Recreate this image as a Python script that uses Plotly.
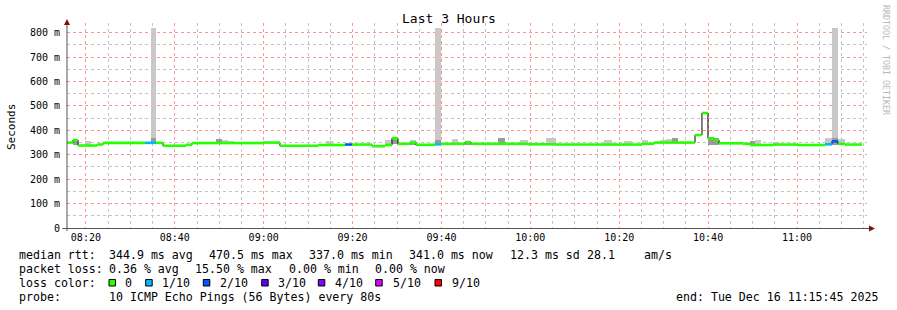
import plotly.graph_objects as go
import pandas as pd

DAY = "2025-12-16 "
RANGE_START = "08:15:45"
RANGE_END = "11:15:45"

# median RTT steps: segment start times, median (ms), loss (of 10 pings)
seg_start = [
    "08:15:45", "08:17:06", "08:18:14", "08:19:48", "08:21:09", "08:22:30", "08:23:51", "08:33:18", "08:34:39", "08:35:46",
    "08:37:21", "08:42:31", "08:43:52", "08:49:16", "08:50:37", "08:51:58", "08:53:19", "08:59:51", "09:03:40", "09:12:13",
    "09:14:01", "09:15:36", "09:18:18", "09:19:52", "09:24:22", "09:27:18", "09:28:52", "09:30:13", "09:32:55", "09:34:16",
    "09:38:33", "09:39:54", "09:42:22", "09:43:43", "09:45:18", "09:46:39", "09:52:43", "09:54:18", "09:57:40", "09:59:28",
    "10:03:31", "10:05:46", "10:16:34", "10:18:22", "10:21:04", "10:22:52", "10:25:07", "10:26:28", "10:27:49", "10:29:10",
    "10:30:31", "10:31:52", "10:33:13", "10:37:03", "10:38:37", "10:39:58", "10:41:19", "10:42:27", "10:47:51", "10:49:25",
    "10:50:33", "10:51:54", "10:54:36", "10:55:57", "11:00:00", "11:06:18", "11:07:52", "11:09:13", "11:10:48",
]
data_end = "11:14:37"
median_ms = [
    350, 360, 338, 338, 338, 342, 349, 349, 349, 349,
    337, 341, 348, 348, 348, 348, 348, 350, 337, 340,
    340, 340, 342, 342, 335, 340, 368, 345, 350, 341,
    343, 345, 345, 345, 352, 345, 345, 345, 345, 343,
    343, 342, 342, 342, 342, 342, 345, 345, 350, 350,
    350, 350, 350, 381, 471, 367, 361, 347, 345, 340,
    340, 340, 342, 342, 340, 343, 355, 345, 342,
]
loss = [
    0, 0, 0, 0, 0, 0, 0, 1, 1, 0,
    0, 0, 0, 0, 0, 0, 0, 0, 0, 0,
    0, 0, 2, 0, 0, 0, 0, 0, 0, 0,
    1, 0, 0, 0, 0, 0, 0, 0, 0, 0,
    0, 0, 0, 0, 0, 0, 0, 0, 0, 0,
    0, 0, 0, 0, 0, 0, 0, 0, 0, 0,
    0, 0, 0, 0, 0, 1, 2, 0, 0,
]

# smoke (ping spread) for the segments that show it
smoke_at = [
    "08:17:06", "08:19:48", "08:34:39", "08:49:16", "08:50:37", "08:51:58", "09:14:01", "09:27:18", "09:28:52", "09:32:55",
    "09:38:33", "09:42:22", "09:45:18", "09:52:43", "09:57:40", "10:03:31", "10:16:34", "10:21:04", "10:25:07", "10:29:10",
    "10:30:31", "10:31:52", "10:39:58", "10:41:19", "10:49:25", "10:50:33", "10:54:36", "11:06:18", "11:07:52", "11:09:13",
]
smoke_lo = [
    340, 338, 349, 348, 348, 348, 340, 340, 345, 340,
    343, 345, 342, 345, 345, 343, 342, 342, 345, 350,
    350, 350, 340, 340, 340, 340, 342, 343, 340, 345,
]
smoke_dark = [
    360, 338, 370, 365, 348, 348, 340, 340, 370, 352,
    362, 345, 355, 370, 345, 343, 342, 342, 345, 350,
    350, 369, 372, 368, 358, 340, 342, 343, 368, 345,
]
smoke_light = [
    366, 358, 820, 365, 361, 357, 358, 362, 372, 360,
    820, 364, 355, 370, 362, 368, 360, 358, 362, 360,
    366, 369, 372, 368, 358, 361, 352, 369, 820, 365,
]

y_tick_vals = [0, 100, 200, 300, 400, 500, 600, 700, 800]
y_tick_text = ["0", "100 m", "200 m", "300 m", "400 m", "500 m", "600 m", "700 m", "800 m"]

loss_labels = ["0", "1/10", "2/10", "3/10", "4/10", "5/10", "9/10"]
loss_colors = ["#26ff00", "#00b8ff", "#0059ff", "#5e00ff", "#7e00ff", "#dd00ff", "#ff0000"]
loss_color_by_count = {0: "#26ff00", 1: "#00b8ff", 2: "#0059ff", 3: "#5e00ff", 4: "#7e00ff", 5: "#dd00ff", 9: "#ff0000"}

legend_rtt = [("median rtt:", 16.7), ("344.9 ms avg", 107.3), ("470.5 ms max", 206.7), ("337.0 ms min", 307.3),
              ("341.0 ms now", 407.3), ("12.3 ms sd", 507.7), ("28.1", 585.0), ("am/s", 642.3)]
legend_loss = [("packet loss:", 16.7), ("0.36 % avg", 107.3), ("15.50 % max", 193.3), ("0.00 % min", 286.7),
               ("0.00 % now", 372.7)]
probe_text = "10 ICMP Echo Pings (56 Bytes) every 80s"
end_text = "end: Tue Dec 16 11:15:45 2025"

# ---------------------------------------------------------------
W, H = 897, 310
ML, MR, MT, MB = 67, 30, 23, 82
PW, PH = W - ML - MR, H - MT - MB
MONO = "DejaVu Sans Mono"
MAJ_GRID = "#ff9494"
MIN_GRID = "#c4c4c4"
DOTS = "dot"


def px(x):
    return (x - ML) / PW


def py(y):
    return (H - MB - y) / PH


starts = pd.to_datetime([DAY + s for s in seg_start])
ends = list(starts[1:]) + [pd.Timestamp(DAY + data_end)]

fig = go.Figure()

# smoke bars
idx = {s: i for i, s in enumerate(seg_start)}
cx, wd, base_l, hl, hd = [], [], [], [], []
for s, lo, dk, lt in zip(smoke_at, smoke_lo, smoke_dark, smoke_light):
    i = idx[s]
    st, en = starts[i], ends[i]
    cx.append(st + (en - st) / 2)
    wd.append((en - st).total_seconds() * 1000)
    base_l.append(lo)
    hl.append(lt - lo)
    hd.append(dk - lo)
fig.add_trace(go.Bar(x=cx, y=hl, base=base_l, width=wd, marker=dict(color="#c8c8c8", line=dict(width=0)),
                     showlegend=False, hoverinfo="skip"))
fig.add_trace(go.Bar(x=cx, y=hd, base=base_l, width=wd, marker=dict(color="#9a9a9a", line=dict(width=0)),
                     showlegend=False, hoverinfo="skip"))

# black step connector
fig.add_trace(go.Scatter(x=list(starts) + [ends[-1]], y=median_ms + [median_ms[-1]], mode="lines",
                         line=dict(color="#000000", width=1, shape="hv"), showlegend=False, hoverinfo="skip"))

# coloured median segments per loss
for cnt, col in loss_color_by_count.items():
    xs, ys = [], []
    for st, en, m, l in zip(starts, ends, median_ms, loss):
        if l == cnt:
            xs += [st, en, None]
            ys += [m, m, None]
    if xs:
        fig.add_trace(go.Scatter(x=xs, y=ys, mode="lines", line=dict(color=col, width=2.6),
                                 showlegend=False, hoverinfo="skip"))

fig.update_layout(
    width=W, height=H, autosize=False,
    margin=dict(l=ML, r=MR, t=MT, b=MB, pad=0),
    paper_bgcolor="#ffffff", plot_bgcolor="#ffffff",
    barmode="overlay", bargap=0,
    font=dict(family=MONO, color="#000000", size=10),
    showlegend=False,
)
fig.update_xaxes(
    type="date", range=[DAY + RANGE_START, DAY + RANGE_END],
    tick0=DAY + "08:20:00", dtick=20 * 60 * 1000, tickformat="%H:%M",
    showgrid=True, gridcolor=MAJ_GRID, griddash=DOTS, gridwidth=1,
    minor=dict(dtick=5 * 60 * 1000, tick0=DAY + "08:20:00", showgrid=True, gridcolor=MIN_GRID,
               griddash=DOTS, gridwidth=1),
    showline=False, zeroline=False, ticks="", tickfont=dict(family=MONO, size=10, color="#000"),
    ticklabelstandoff=2,
)
fig.update_yaxes(
    range=[0, 840], tickvals=y_tick_vals, ticktext=y_tick_text,
    showgrid=True, gridcolor=MAJ_GRID, griddash=DOTS, gridwidth=1,
    minor=dict(dtick=50, tick0=0, showgrid=True, gridcolor=MIN_GRID, griddash=DOTS, gridwidth=1),
    showline=False, zeroline=False, ticks="", tickfont=dict(family=MONO, size=10, color="#000"),
    ticklabelstandoff=6,
)

shapes = []
axis_col = "#555555"
arrow_col = "#7f1010"
# axes lines
shapes.append(dict(type="line", xref="paper", yref="paper", x0=px(62.5), x1=px(870), y0=py(228.5), y1=py(228.5),
                   line=dict(color=axis_col, width=1)))
shapes.append(dict(type="line", xref="paper", yref="paper", x0=px(67), x1=px(67), y0=py(231), y1=py(22),
                   line=dict(color=axis_col, width=1)))
# arrows
shapes.append(dict(type="path", xref="paper", yref="paper",
                   path=f"M {px(64)} {py(25)} L {px(70)} {py(25)} L {px(67)} {py(19)} Z",
                   fillcolor=arrow_col, line=dict(color=arrow_col, width=0)))
shapes.append(dict(type="path", xref="paper", yref="paper",
                   path=f"M {px(869)} {py(225.5)} L {px(869)} {py(231.5)} L {px(875)} {py(228.5)} Z",
                   fillcolor=arrow_col, line=dict(color=arrow_col, width=0)))

annotations = []


def txt(text, x, y, size=11.6, xanchor="left", color="#000000", angle=0):
    annotations.append(dict(text=text, x=px(x), y=py(y), xref="paper", yref="paper", showarrow=False,
                            xanchor=xanchor, yanchor="middle", textangle=angle,
                            font=dict(family=MONO, size=size, color=color)))


txt("Last 3 Hours", 448.5, 19, size=13, xanchor="center")
txt("Seconds", 11, 127, size=11, xanchor="center", angle=-90)
txt("RRDTOOL / TOBI OETIKER", 886, 60, size=8.3, xanchor="center", color="#b8b8b8", angle=90)

for t, x in legend_rtt:
    txt(t, x, 254.5)
for t, x in legend_loss:
    txt(t, x, 268.5)
txt("loss color:", 16.7, 282.5)
sq_x = [109, 145.7, 203.3, 261.7, 318.3, 375.7, 435]
lab_x = [123.3, 160, 218.3, 276, 333.3, 390.7, 450]
for lab, col, sx, lx in zip(loss_labels, loss_colors, sq_x, lab_x):
    shapes.append(dict(type="rect", xref="paper", yref="paper", x0=px(sx), x1=px(sx + 6.5),
                       y0=py(286), y1=py(279.5), fillcolor=col, line=dict(color="#000000", width=1)))
    txt(lab, lx, 282.5)
txt("probe:", 16.7, 296.5)
txt(probe_text, 107.3, 296.5)
txt(end_text, 880, 296.5, xanchor="right")

fig.update_layout(shapes=shapes, annotations=annotations)
fig.write_html("out.html")
